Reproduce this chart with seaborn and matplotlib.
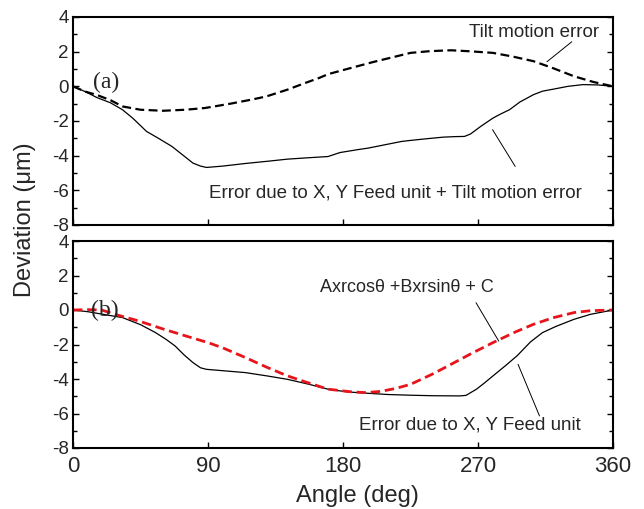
import numpy as np
import pandas as pd
import seaborn as sns
import matplotlib.pyplot as plt
from matplotlib.ticker import MultipleLocator

# (a) error due to feed unit + tilt (solid) and tilt motion error (dashed)
ang_a_total = [0, 8, 16, 25, 33, 40, 49, 57, 66, 73, 80, 85, 89, 100, 115, 130, 143, 157,
               170, 178, 190, 197, 219, 225, 235, 247, 255, 261, 265, 272, 280, 285, 291,
               298, 307, 313, 321, 330, 340, 350, 360]
dev_a_total = [0, -0.3, -0.65, -0.95, -1.35, -1.85, -2.6, -3.0, -3.47, -3.95, -4.43, -4.6,
               -4.68, -4.6, -4.45, -4.32, -4.2, -4.12, -4.05, -3.82, -3.65, -3.56, -3.18,
               -3.12, -3.03, -2.93, -2.9, -2.89, -2.75, -2.3, -1.83, -1.6, -1.35, -0.9,
               -0.48, -0.28, -0.15, 0.0, 0.1, 0.08, 0]
ang_a_tilt = [0, 8, 16, 25, 33, 45, 60, 75, 88, 105, 120, 129, 143, 155, 164, 170, 181,
              200, 225, 238, 252, 265, 280, 293, 307, 320, 334, 347, 360]
dev_a_tilt = [0, -0.3, -0.5, -0.8, -1.16, -1.35, -1.41, -1.35, -1.25, -1.0, -0.75, -0.58,
              -0.19, 0.2, 0.48, 0.7, 0.96, 1.4, 1.93, 2.03, 2.08, 2.02, 1.93, 1.72, 1.45,
              1.05, 0.58, 0.25, 0]

# (b) error due to feed unit (solid) and fitted curve (red dashed)
ang_b_feed = [0, 10, 20, 33, 45, 55, 62, 68, 74, 80, 85, 89, 100, 115, 130, 143, 157, 170,
              183, 197, 210, 225, 240, 258, 262, 269, 274, 280, 288, 296, 305, 313, 322,
              334, 345, 360]
dev_b_feed = [0, -0.1, -0.25, -0.44, -0.85, -1.31, -1.7, -2.08, -2.6, -3.05, -3.35, -3.44,
              -3.52, -3.63, -3.83, -4.02, -4.3, -4.59, -4.75, -4.83, -4.9, -4.94, -4.97,
              -4.98, -4.95, -4.59, -4.25, -3.82, -3.25, -2.66, -1.85, -1.31, -0.95, -0.54,
              -0.25, 0]
ang_b_fit = [0, 10, 19, 30, 44, 60, 75, 90, 100, 115, 130, 143, 155, 170, 185, 195, 205,
             215, 225, 240, 252, 265, 280, 295, 307, 320, 334, 345, 360]
dev_b_fit = [0, 0.02, 0, -0.3, -0.64, -1.1, -1.5, -1.89, -2.2, -2.76, -3.35, -3.82, -4.17,
             -4.59, -4.74, -4.79, -4.72, -4.55, -4.31, -3.7, -3.15, -2.55, -1.89, -1.27,
             -0.83, -0.45, -0.15, -0.04, 0]

sns.set_style("ticks")
plt.rcParams['font.family'] = ['Liberation Sans', 'DejaVu Sans']
plt.rcParams['axes.linewidth'] = 1.5
plt.rcParams['axes.unicode_minus'] = False

fig = plt.figure(figsize=(6.44, 5.09), dpi=100)
W, H = 644, 509
ax1 = fig.add_axes([73 / W, 1 - 225 / H, 540 / W, 208 / H])
ax2 = fig.add_axes([73 / W, 1 - 448 / H, 540 / W, 207 / H])

df_a1 = pd.DataFrame({'angle': ang_a_total, 'dev': dev_a_total})
df_a2 = pd.DataFrame({'angle': ang_a_tilt, 'dev': dev_a_tilt})
df_b1 = pd.DataFrame({'angle': ang_b_feed, 'dev': dev_b_feed})
df_b2 = pd.DataFrame({'angle': ang_b_fit, 'dev': dev_b_fit})

sns.lineplot(data=df_a1, x='angle', y='dev', ax=ax1, color='black', linewidth=0.9)
sns.lineplot(data=df_a2, x='angle', y='dev', ax=ax1, color='black', linewidth=1.6,
             linestyle=(0, (4, 2)))
sns.lineplot(data=df_b1, x='angle', y='dev', ax=ax2, color='black', linewidth=0.9)
sns.lineplot(data=df_b2, x='angle', y='dev', ax=ax2, color='#e8141b', linewidth=2.0,
             linestyle=(0, (3.4, 1.7)))

for ax in (ax1, ax2):
    ax.set_xlim(0, 360)
    ax.set_ylim(-8, 4)
    ax.set_xticks([0, 90, 180, 270, 360])
    ax.yaxis.set_major_locator(MultipleLocator(2))
    ax.yaxis.set_minor_locator(MultipleLocator(1))
    ax.tick_params(which='both', direction='in', left=True, right=True, top=False,
                   bottom=True, width=1.0, color='black')
    ax.tick_params(which='major', length=4)
    ax.tick_params(which='minor', length=3)
    ax.tick_params(axis='y', labelsize=13.5, pad=3)
    ax.tick_params(axis='x', labelsize=16, pad=6)
    ax.set_xlabel('')
    ax.set_ylabel('')
    for s in ax.spines.values():
        s.set_visible(True)
        s.set_color('black')
ax1.set_xticklabels([])

# panel labels
ax1.text(22, 0.2, '(a)', family='Liberation Serif', fontsize=17, ha='center', va='center')
ax2.text(21, 0.0, '(b)', family='Liberation Serif', fontsize=17, ha='center', va='center')

# annotations
ax1.text(351, 3.08, 'Tilt motion error', fontsize=13.5, ha='right', va='center')
ax1.annotate('', xy=(316, 1.42), xytext=(332.5, 2.57),
             arrowprops=dict(arrowstyle='-', color='black', lw=0.7, shrinkA=0, shrinkB=0))
ax1.text(90.5, -6.17, 'Error due to X, Y Feed unit + Tilt motion error', fontsize=13.5,
         ha='left', va='center')
ax1.annotate('', xy=(279.7, -2.5), xytext=(294.8, -4.62),
             arrowprops=dict(arrowstyle='-', color='black', lw=0.7, shrinkA=0, shrinkB=0))

ax2.text(222.7, 1.33, 'Axrcosθ +Bxrsinθ + C', fontsize=13, ha='center', va='center')
ax2.annotate('', xy=(283.8, -1.8), xytext=(268.7, 0.42),
             arrowprops=dict(arrowstyle='-', color='black', lw=0.7, shrinkA=0, shrinkB=0))
ax2.text(264.5, -6.65, 'Error due to X, Y Feed unit', fontsize=13.5, ha='center', va='center')
ax2.annotate('', xy=(296.7, -3.15), xytext=(311, -6.14),
             arrowprops=dict(arrowstyle='-', color='black', lw=0.7, shrinkA=0, shrinkB=0))

fig.text(25 / W, 1 - 220 / H, 'Deviation (μm)', rotation=90, fontsize=17,
         ha='center', va='center')
fig.text(357 / W, 1 - 496 / H, 'Angle (deg)', fontsize=17, ha='center', va='center')

fig.savefig('out.png', dpi=100)
